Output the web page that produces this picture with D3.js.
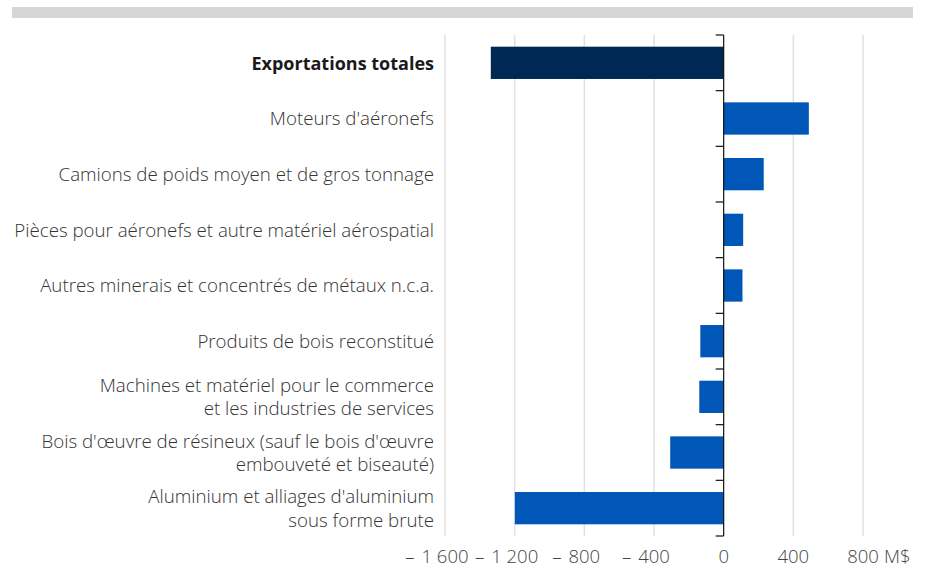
<!DOCTYPE html>
<html>
<head>
<meta charset="utf-8">
<script src="https://cdn.jsdelivr.net/npm/d3@7"></script>
<style>
  body { margin: 0; background: #fff; }
  svg { display: block; font-family: "Open Sans", sans-serif; }
</style>
</head>
<body>
<div id="chart"></div>
<script>
const categories = [
  "Exportations totales",
  "Moteurs d'aéronefs",
  "Camions de poids moyen et de gros tonnage",
  "Pièces pour aéronefs et autre matériel aérospatial",
  "Autres minerais et concentrés de métaux n.c.a.",
  "Produits de bois reconstitué",
  "Machines et matériel pour le commerce|et les industries de services",
  "Bois d'œuvre de résineux (sauf le bois d'œuvre|embouveté et biseauté)",
  "Aluminium et alliages d'aluminium|sous forme brute",
];
const values = [-1337, 489, 230, 112, 108, -134, -140, -307, -1199];
const tickValues = [-1600, -1200, -800, -400, 0, 400, 800];
const unitLabel = "M$";

const width = 925;
const height = 569;
const margin = { top: 35, right: 62, bottom: 33, left: 445 };

const svg = d3.select("#chart")
  .append("svg")
  .attr("width", width)
  .attr("height", height);

// grey band across the top
svg.append("rect")
  .attr("x", 12).attr("y", 7)
  .attr("width", 901).attr("height", 11)
  .attr("fill", "#d6d6d6");

const xScale = d3.scaleLinear()
  .domain([-1600, 800])
  .range([margin.left, width - margin.right]);

const yScale = d3.scaleBand()
  .domain(categories)
  .range([margin.top, height - margin.bottom])
  .paddingInner(0.42)
  .paddingOuter(0.21);

const step = yScale.step();
const y0 = margin.top;
const y1 = margin.top + step * categories.length;

// vertical gridlines
svg.append("g")
  .selectAll("line")
  .data(tickValues.filter((d) => d !== 0))
  .join("line")
  .attr("x1", (d) => xScale(d))
  .attr("x2", (d) => xScale(d))
  .attr("y1", y0)
  .attr("y2", y1)
  .attr("stroke", "#e1e1e1")
  .attr("stroke-width", 1.5);

// tick labels: number centred on the tick, minus sign hanging to the left
const tickFont = 18.5;
const tickY = 563;
const tickLabels = svg.append("g")
  .attr("font-size", tickFont)
  .attr("font-weight", 300)
  .attr("fill", "#444");

tickValues.forEach((d) => {
  const num = d3.format(",")(Math.abs(d)).replace(/,/g, " ");
  const t = tickLabels.append("text")
    .attr("x", xScale(d))
    .attr("y", tickY)
    .attr("text-anchor", "middle")
    .text(num);
  if (d < 0) {
    const w = t.node().getComputedTextLength();
    tickLabels.append("text")
      .attr("x", xScale(d) - w / 2 - 7)
      .attr("y", tickY)
      .attr("text-anchor", "end")
      .text("\u2013");
  }
});

tickLabels.append("text")
  .attr("x", xScale(800) + 21)
  .attr("y", tickY)
  .attr("text-anchor", "start")
  .text(unitLabel);

// bars
svg.append("g")
  .selectAll("rect")
  .data(values)
  .join("rect")
  .attr("x", (d) => xScale(Math.min(0, d)))
  .attr("y", (d, i) => yScale(categories[i]))
  .attr("width", (d) => Math.abs(xScale(d) - xScale(0)))
  .attr("height", yScale.bandwidth())
  .attr("fill", (d, i) => (i === 0 ? "#002855" : "#0057b8"));

// zero axis with category ticks
const axis = svg.append("g");
axis.append("line")
  .attr("x1", xScale(0)).attr("x2", xScale(0))
  .attr("y1", y0).attr("y2", y1)
  .attr("stroke", "#111")
  .attr("stroke-width", 1.2);
axis.selectAll("line.tick")
  .data(d3.range(categories.length + 1))
  .join("line")
  .attr("class", "tick")
  .attr("x1", xScale(0) - 8).attr("x2", xScale(0))
  .attr("y1", (i) => y0 + i * step)
  .attr("y2", (i) => y0 + i * step)
  .attr("stroke", "#111")
  .attr("stroke-width", 1.2);

// category labels
const labels = svg.append("g")
  .selectAll("text")
  .data(categories)
  .join("text")
  .attr("x", margin.left - 11)
  .attr("y", (d) => yScale(d) + yScale.bandwidth() / 2)
  .attr("text-anchor", "end")
  .attr("font-size", (d, i) => (i === 0 ? 18 : 18.7))
  .attr("font-weight", (d, i) => (i === 0 ? 700 : 300))
  .attr("fill", (d, i) => (i === 0 ? "#1a1a1a" : "#333"));

labels.each(function (d) {
  const lines = d.split("|");
  const lh = 23.5;
  const start = -((lines.length - 1) * lh) / 2 + 6.8;
  d3.select(this)
    .selectAll("tspan")
    .data(lines)
    .join("tspan")
    .attr("x", margin.left - 11)
    .attr("dy", (l, j) => (j === 0 ? start : lh))
    .text((l) => l);
});
</script>
</body>
</html>
